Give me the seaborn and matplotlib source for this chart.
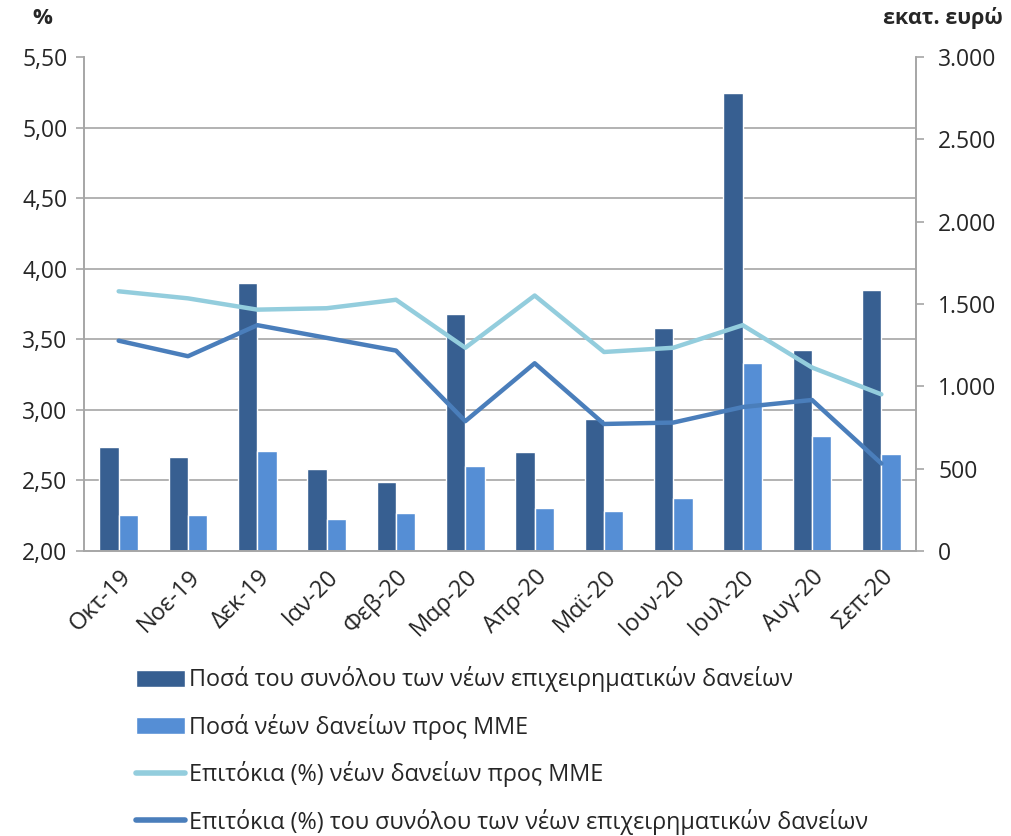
import numpy as np
import pandas as pd
import matplotlib
matplotlib.use("Agg")
import matplotlib.pyplot as plt
from matplotlib.ticker import FuncFormatter, MultipleLocator
from matplotlib.patches import Patch
from matplotlib.lines import Line2D
import seaborn as sns

months = ["Οκτ-19", "Νοε-19", "Δεκ-19", "Ιαν-20", "Φεβ-20", "Μαρ-20",
          "Απρ-20", "Μαϊ-20", "Ιουν-20", "Ιουλ-20", "Αυγ-20", "Σεπ-20"]
amount_total = [632, 571, 1627, 498, 419, 1439, 601, 802, 1354, 2781, 1221, 1585]
amount_sme = [219, 219, 607, 194, 231, 516, 261, 243, 322, 1142, 698, 589]
rate_sme = [3.84, 3.79, 3.71, 3.72, 3.78, 3.44, 3.81, 3.41, 3.44, 3.60, 3.30, 3.11]
rate_total = [3.49, 3.38, 3.60, 3.51, 3.42, 2.92, 3.33, 2.90, 2.91, 3.02, 3.07, 2.62]

lbl_total = "Ποσά του συνόλου των νέων επιχειρηματικών δανείων"
lbl_sme = "Ποσά νέων δανείων προς ΜΜΕ"
lbl_rate_sme = "Επιτόκια (%) νέων δανείων προς ΜΜΕ"
lbl_rate_total = "Επιτόκια (%) του συνόλου των νέων επιχειρηματικών δανείων"

c_dark = "#375F91"
c_light = "#558ED5"
c_line_light = "#93CDDD"
c_line_dark = "#4A7EBB"
grid_c = "#A6A6A6"

sns.set_style("white")
plt.rcParams["font.family"] = ["Open Sans", "DejaVu Sans"]
plt.rcParams["text.color"] = "#262626"

df = pd.DataFrame({
    "month": months * 2,
    "value": amount_total + amount_sme,
    "series": [lbl_total] * 12 + [lbl_sme] * 12,
})

fig, ax = plt.subplots(figsize=(10.11, 8.36), dpi=100)
fig.subplots_adjust(left=84 / 1011, right=916 / 1011, top=1 - 57 / 836, bottom=1 - 551 / 836)
ax2 = ax.twinx()

# bars on the right axis
sns.barplot(data=df, x="month", y="value", hue="series", palette=[c_dark, c_light],
            width=0.56, saturation=1, legend=False, ax=ax2)
ax2.set_ylim(0, 3000)
ax2.yaxis.set_major_locator(MultipleLocator(500))
ax2.yaxis.set_major_formatter(FuncFormatter(lambda v, p: f"{int(v):,}".replace(",", ".")))
ax2.yaxis.set_minor_locator(MultipleLocator(3000 / 7))
ax2.grid(which="minor", axis="y", color=grid_c, lw=1.2)
ax2.set_axisbelow(True)
ax2.set_ylabel("")
ax2.set_xlabel("")

# lines on the left axis, drawn above the bars
x = np.arange(len(months))
sns.lineplot(x=x, y=rate_sme, color=c_line_light, lw=3.2, ax=ax)
sns.lineplot(x=x, y=rate_total, color=c_line_dark, lw=3.2, ax=ax)
ax.set_zorder(ax2.get_zorder() + 1)
ax.patch.set_visible(False)
ax.set_ylim(2.0, 5.5)
ax.yaxis.set_major_locator(MultipleLocator(0.5))
ax.yaxis.set_major_formatter(FuncFormatter(lambda v, p: f"{v:.2f}".replace(".", ",")))
ax.set_xlim(-0.5, len(months) - 0.5)
ax.set_xticks(x)
ax.set_xticklabels(months, rotation=45, ha="right", rotation_mode="anchor", fontsize=17)
ax.xaxis.set_minor_locator(MultipleLocator(1, offset=0.5))
ax.tick_params(axis="x", which="major", length=0, pad=10)
ax.tick_params(axis="x", which="minor", length=6, color=grid_c, width=1.2)
ax.tick_params(axis="y", length=6, color=grid_c, width=1.2, labelsize=16.5, pad=6)
ax2.tick_params(axis="y", which="major", length=6, color=grid_c, width=1.2, labelsize=16.5, pad=10)
ax2.tick_params(axis="y", which="minor", length=0)

for a in (ax, ax2):
    a.spines["top"].set_visible(False)
    for s in ("left", "right", "bottom"):
        a.spines[s].set_color(grid_c)
        a.spines[s].set_linewidth(1.2)

fig.text(42 / 1011, 1 - 18 / 836, "%", fontsize=16, fontweight="bold", ha="center", va="center")
fig.text(1003 / 1011, 1 - 18 / 836, "εκατ. ευρώ", fontsize=15.5, fontweight="bold", ha="right", va="center")

handles = [
    Patch(facecolor=c_dark, label=lbl_total),
    Patch(facecolor=c_light, label=lbl_sme),
    Line2D([], [], color=c_line_light, lw=4, label=lbl_rate_sme),
    Line2D([], [], color=c_line_dark, lw=4, label=lbl_rate_total),
]
fig.legend(handles=handles, loc="upper left", bbox_to_anchor=(127 / 1011, 1 - 657 / 836),
           frameon=False, fontsize=16.8, handlelength=2.1, handleheight=0.75,
           handletextpad=0.15, labelspacing=0.92, borderaxespad=0)

fig.savefig("out.png", dpi=100)
